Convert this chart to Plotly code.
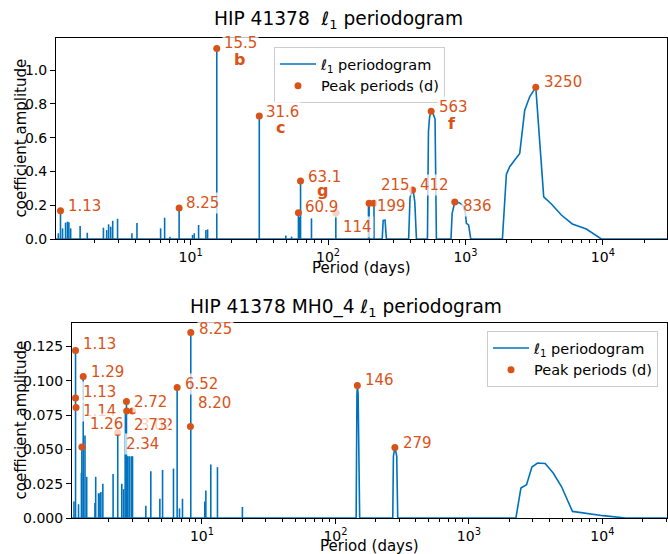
import numpy as np
import plotly.graph_objects as go

BLUE = "#0072BD"
ORANGE = "#D95319"
FONT = "DejaVu Sans"

# ---------------- data : top panel ----------------
top_spike_period = [1.09, 1.13, 1.17, 1.23, 1.27, 1.30, 1.34, 1.57, 1.77, 2.32, 2.45, 2.53, 2.62,
                    2.71, 2.94, 3.74, 4.07, 6.05, 6.47, 7.07, 8.25, 10.33, 10.63, 11.43, 12.92,
                    13.29, 15.5, 31.6, 49.3, 54.3, 60.9, 62.0, 63.1, 75.8, 114, 197, 199, 216]
top_spike_amp = [0.034, 0.167, 0.063, 0.097, 0.103, 0.099, 0.063, 0.077, 0.037, 0.067, 0.053, 0.087, 0.073,
                 0.108, 0.120, 0.034, 0.095, 0.063, 0.126, 0.014, 0.183, 0.024, 0.034, 0.083, 0.053,
                 0.057, 1.128, 0.728, 0.020, 0.014, 0.156, 0.130, 0.343, 0.122, 0.156, 0.200, 0.211, 0.211]

top_curve_period = [1.048, 248, 252, 260, 266, 386, 395, 404, 412, 420, 428, 440,
                    529, 538, 548, 563, 581, 601, 615,
                    785, 800, 836, 900, 960, 1000, 1016, 1055, 1093,
                    1858, 1986, 2100, 2483, 2700, 2935, 3250, 3712, 4222, 4988, 5996, 7585, 9750, 29300]
top_curve_amp = [0, 0, 0.110, 0.112, 0, 0, 0.240, 0.285, 0.290, 0.265, 0.220, 0,
                 0, 0.635, 0.720, 0.757, 0.743, 0.710, 0,
                 0, 0.150, 0.219, 0.215, 0.200, 0.152, 0.093, 0.083, 0,
                 0, 0.383, 0.428, 0.507, 0.763, 0.842, 0.899, 0.250, 0.207, 0.142, 0.089, 0.059, 0, 0]

top_peak_period = [1.13, 8.25, 15.5, 31.6, 63.1, 60.9, 114, 215, 199, 412, 563, 836, 3250]
top_peak_amp = [0.167, 0.183, 1.128, 0.728, 0.343, 0.156, 0.156, 0.211, 0.211, 0.290, 0.757, 0.219, 0.899]
top_peak_label = ["1.13", "8.25", "15.5", "31.6", "63.1", "60.9", "114", "215", "199", "412", "563", "836", "3250"]
top_planet_period = [15.5, 31.6, 63.1, 563]
top_planet_amp = [1.128, 0.728, 0.343, 0.757]
top_planet_letter = ["b", "c", "g", "f"]

# ---------------- data : bottom panel ----------------
bot_spike_period = [1.10, 1.13, 1.19, 1.25, 1.26, 1.29, 1.33, 1.37, 1.58, 1.60, 1.68, 1.72, 1.75, 1.81,
                    2.16, 2.34, 2.51, 2.59, 2.66, 2.72, 2.78, 2.85, 2.95, 3.02, 3.80, 4.14, 4.84,
                    5.07, 6.12, 6.52, 6.79, 7.15, 8.25, 10.5, 10.7, 11.65, 13.07, 20.1]
bot_spike_amp = [0.012, 0.122, 0.010, 0.033, 0.052, 0.103, 0.060, 0.030, 0.011, 0.030, 0.018, 0.018, 0.019, 0.025,
                 0.032, 0.062, 0.025, 0.021, 0.078, 0.085, 0.045, 0.045, 0.045, 0.045, 0.009, 0.034, 0.014,
                 0.035, 0.036, 0.095, 0.007, 0.014, 0.135, 0.012, 0.020, 0.039, 0.037, 0.008]

bot_curve_period = [1.063, 143, 145, 146, 148, 152, 269, 272, 279, 284, 288, 293,
                    2251, 2453, 2704, 2965, 3266, 3730, 4282, 4938, 5970, 10140, 15000, 30500]
bot_curve_amp = [0, 0, 0.090, 0.0965, 0.090, 0, 0, 0.045, 0.0514, 0.048, 0.045, 0,
                 0, 0.0218, 0.0242, 0.0371, 0.040, 0.0397, 0.0328, 0.0229, 0.0048, 0.0017, 0, 0]

bot_peak_period = [1.13, 1.14, 1.13, 1.29, 2.34, 3.02, 1.26, 2.72, 2.73, 6.52, 8.20, 8.25, 146, 279]
bot_peak_amp = [0.122, 0.0805, 0.0874, 0.103, 0.0623, 0.078, 0.0517, 0.0849, 0.078, 0.095, 0.0667, 0.135, 0.0965, 0.0514]
bot_peak_label = ["1.13", "1.14", "1.13", "1.29", "2.34", "3.02", "1.26", "2.72", "2.73", "6.52", "8.20", "8.25", "146", "279"]

# ---------------- layout constants (pixels) ----------------
W, H = 668, 554
top_off = [(5, -5), (5, -5), (5, -5), (5, -4), (5, -4), (5, -6), (5, 14), (5, -18), (6, 3), (5, -5), (6, -4), (6, 4), (6, -5)]
top_letter_off = [(23, 11), (21, 11), (22, 9), (21, 12)]
bot_off = [(5, -6), (5, 4), (5, -6), (6, -5), (6, 12), (5, 14), (6, -23), (6, 1), (5, 14), (6, -4), (6, -23), (6, -4), (6, -5), (6, -4)]


def spikes(periods, amps):
    xs, ys = [], []
    for p, a in zip(periods, amps):
        xs += [p, p, None]
        ys += [0, a, None]
    return xs, ys


fig = go.Figure()

sx, sy = spikes(top_spike_period, top_spike_amp)
fig.add_trace(go.Scatter(x=top_curve_period, y=top_curve_amp, mode="lines", line=dict(color=BLUE, width=1.6),
                         name="ℓ<sub>1</sub> periodogram", xaxis="x", yaxis="y", legend="legend"))
fig.add_trace(go.Scatter(x=sx, y=sy, mode="lines", line=dict(color=BLUE, width=1.6), showlegend=False,
                         xaxis="x", yaxis="y"))
fig.add_trace(go.Scatter(x=top_peak_period, y=top_peak_amp, mode="markers",
                         marker=dict(color=ORANGE, size=7), name="Peak periods (d)",
                         xaxis="x", yaxis="y", legend="legend"))

sx, sy = spikes(bot_spike_period, bot_spike_amp)
fig.add_trace(go.Scatter(x=bot_curve_period, y=bot_curve_amp, mode="lines", line=dict(color=BLUE, width=1.6),
                         name="ℓ<sub>1</sub> periodogram", xaxis="x2", yaxis="y2", legend="legend2"))
fig.add_trace(go.Scatter(x=sx, y=sy, mode="lines", line=dict(color=BLUE, width=1.6), showlegend=False,
                         xaxis="x2", yaxis="y2"))
fig.add_trace(go.Scatter(x=bot_peak_period, y=bot_peak_amp, mode="markers",
                         marker=dict(color=ORANGE, size=7), name="Peak periods (d)",
                         xaxis="x2", yaxis="y2", legend="legend2"))

annotations = []


def label(xr, yr, p, a, text, dx, dy, size=15, bold=False, anchor="left", bg=True):
    annotations.append(dict(
        x=np.log10(p), y=a, xref=xr, yref=yr, text=("<b>%s</b>" % text) if bold else text,
        showarrow=False, xanchor=anchor, yanchor="middle", xshift=dx, yshift=-dy,
        font=dict(family=FONT, size=size, color=ORANGE),
        bgcolor="rgba(255,255,255,0.75)" if bg else None, borderpad=1))


for p, a, t, (dx, dy) in zip(top_peak_period, top_peak_amp, top_peak_label, top_off):
    label("x", "y", p, a, t, dx, dy)
for p, a, t, (dx, dy) in zip(top_planet_period, top_planet_amp, top_planet_letter, top_letter_off):
    label("x", "y", p, a, t, dx, dy, size=16, bold=True, anchor="center", bg=False)
for p, a, t, (dx, dy) in zip(bot_peak_period, bot_peak_amp, bot_peak_label, bot_off):
    label("x2", "y2", p, a, t, dx, dy)


def ptxt(x, y, text, size, angle=0):
    annotations.append(dict(x=x / W, y=1 - y / H, xref="paper", yref="paper", text=text, showarrow=False,
                            xanchor="center", yanchor="middle", textangle=angle,
                            font=dict(family=FONT, size=size, color="black")))


ptxt(338, 20, "HIP 41378\u00a0\u00a0<i>ℓ</i><sub>1</sub> periodogram", 18.6)
ptxt(346, 308, "HIP 41378 MH0_4 <i>ℓ</i><sub>1</sub> periodogram", 18.6)
ptxt(361.5, 268, "Period (days)", 15)
ptxt(369.5, 546, "Period (days)", 15)
ptxt(20, 138.5, "coefficient amplitude", 15, -90)
ptxt(20, 420.5, "coefficient amplitude", 15, -90)

minor_vals = [m * 10 ** e for e in range(0, 5) for m in range(2, 10)]
xt = dict(type="log", tickvals=[10, 100, 1000, 10000],
          ticktext=["10<sup>1</sup>", "10<sup>2</sup>", "10<sup>3</sup>", "10<sup>4</sup>"],
          ticks="outside", ticklen=5, tickwidth=1, tickcolor="black",
          minor=dict(tickvals=minor_vals, ticks="outside", ticklen=3, tickwidth=0.8, tickcolor="black", showgrid=False),
          showline=True, mirror=True, linecolor="black", linewidth=1, showgrid=False, zeroline=False,
          tickfont=dict(family=FONT, size=14, color="black"), automargin=False)
yt = dict(ticks="outside", ticklen=5, tickwidth=1, tickcolor="black", showline=True, mirror=True,
          linecolor="black", linewidth=1, showgrid=False, zeroline=False,
          tickfont=dict(family=FONT, size=14, color="black"), automargin=False)

fig.update_layout(
    width=W, height=H, autosize=False, margin=dict(l=0, r=0, t=0, b=0, pad=0),
    paper_bgcolor="white", plot_bgcolor="white",
    font=dict(family=FONT, size=14, color="black"),
    xaxis=dict(xt, domain=[56 / W, 667 / W], range=[np.log10(1.048), np.log10(29300)], anchor="y"),
    yaxis=dict(yt, domain=[1 - 239 / H, 1 - 38 / H], range=[0, 1.19],
               tickvals=[0, 0.2, 0.4, 0.6, 0.8, 1.0], tickformat=".1f", anchor="x"),
    xaxis2=dict(xt, domain=[72 / W, 667 / W], range=[np.log10(1.063), np.log10(30500)], anchor="y2"),
    yaxis2=dict(yt, domain=[1 - 518 / H, 1 - 323 / H], range=[0, 0.142],
                tickvals=[0, 0.025, 0.05, 0.075, 0.1, 0.125], tickformat=".3f", anchor="x2"),
    legend=dict(x=274 / W, y=1 - 47 / H, xanchor="left", yanchor="top", bgcolor="rgba(255,255,255,0.8)",
                bordercolor="#cccccc", borderwidth=1, font=dict(family=FONT, size=14.5), itemwidth=36),
    legend2=dict(x=487 / W, y=1 - 331 / H, xanchor="left", yanchor="top", bgcolor="rgba(255,255,255,0.8)",
                 bordercolor="#cccccc", borderwidth=1, font=dict(family=FONT, size=14.5), itemwidth=36),
    annotations=annotations,
    showlegend=True,
)

fig.write_html("out.html", config={"responsive": False})
